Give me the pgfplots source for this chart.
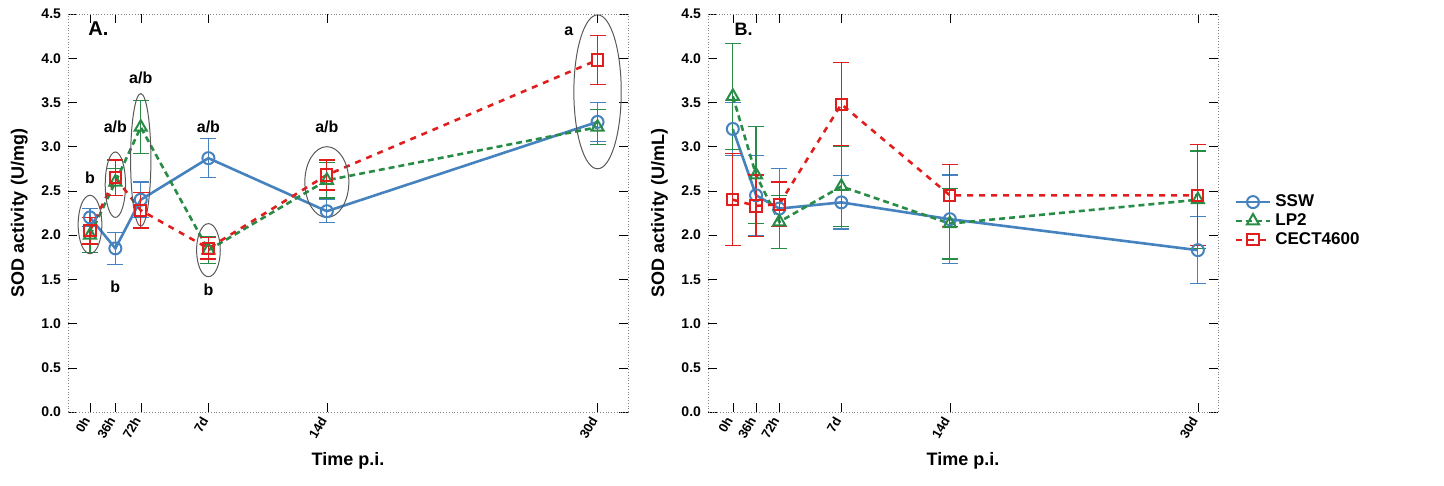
\documentclass[border=0pt]{standalone}
\usepackage{pgfplots}
\pgfplotsset{compat=1.18}
\usepackage{fontspec}
\setmainfont{Liberation Sans}
\definecolor{cssw}{RGB}{70,130,190}
\definecolor{clp}{RGB}{40,140,70}
\definecolor{cce}{RGB}{225,30,30}
\pgfplotsset{
  myax/.style={scale only axis, anchor=south west,
    xmin=-1.3, xmax=31.8, ymin=0, ymax=4.5,
    xtick={0,1.5,3,7,14,30}, xticklabels={0h,36h,72h,7d,14d,30d},
    xticklabel style={rotate=60, anchor=east, font=\bfseries\fontsize{6.5}{7}\selectfont},
    ytick={0,0.5,...,4.5}, yticklabel style={font=\bfseries\fontsize{7}{8}\selectfont},
    /pgf/number format/assume math mode=true,
    /pgf/number format/fixed, /pgf/number format/fixed zerofill, /pgf/number format/precision=1,
    axis line style={gray, densely dotted}, tick style={black},
    xlabel={\bfseries Time p.i.}, xlabel style={font=\fontsize{9}{10}\selectfont, yshift=2pt},
    ylabel style={font=\fontsize{9}{10}\selectfont},
    error bars/y dir=both, error bars/y explicit,
    error bars/error mark options={solid, rotate=90, mark size=4pt, line width=0.6pt},
    error bars/error bar style={solid, line width=0.6pt}},
  ssw/.style={color=cssw, line width=1.3pt, mark=o, mark size=3pt, mark options={solid,line width=1pt}},
  lp/.style={color=clp, line width=1.3pt, densely dashed, mark=triangle, mark size=3.5pt, mark options={solid,line width=1pt}},
  ce/.style={color=cce, line width=1.3pt, dashed, mark=square, mark size=2.8pt, mark options={solid,line width=1pt}},
}
\begin{document}
\begin{tikzpicture}
\useasboundingbox (0,0) rectangle (722pt,243pt);
\begin{axis}[myax, at={(34pt,37pt)}, width=280pt, height=199pt,
  ylabel={\bfseries SOD activity (U/mg)}]
\addplot[ssw] coordinates {(0,2.2)+-(0,0.1) (1.5,1.85)+-(0,0.18) (3,2.4)+-(0,0.2) (7,2.87)+-(0,0.22) (14,2.27)+-(0,0.13) (30,3.28)+-(0,0.22)};
\addplot[lp] coordinates {(0,2.0)+-(0,0.2) (1.5,2.6)+-(0,0.15) (3,3.22)+-(0,0.3) (7,1.83)+-(0,0.15) (14,2.62)+-(0,0.2) (30,3.22)+-(0,0.2)};
\addplot[ce] coordinates {(0,2.05)+-(0,0.15) (1.5,2.65)+-(0,0.2) (3,2.28)+-(0,0.2) (7,1.85)+-(0,0.12) (14,2.68)+-(0,0.17) (30,3.98)+-(0,0.28)};
\begin{scope}[gray!70!black, line width=0.5pt]
\draw (axis cs:0,2.12) ellipse [x radius=0.7, y radius=0.33];
\draw (axis cs:1.5,2.57) ellipse [x radius=0.6, y radius=0.37];
\draw (axis cs:3,2.85) ellipse [x radius=0.6, y radius=0.75];
\draw (axis cs:7,1.83) ellipse [x radius=0.7, y radius=0.3];
\draw (axis cs:14,2.6) ellipse [x radius=1.3, y radius=0.4];
\draw (axis cs:30,3.62) ellipse [x radius=1.4, y radius=0.87];
\end{scope}
\begin{scope}[font=\bfseries\fontsize{8}{9}\selectfont]
\node at (axis cs:0,2.65) {b};
\node at (axis cs:1.5,1.42) {b};
\node at (axis cs:1.5,3.22) {a/b};
\node at (axis cs:3,3.78) {a/b};
\node at (axis cs:7,3.22) {a/b};
\node at (axis cs:7,1.38) {b};
\node at (axis cs:14,3.22) {a/b};
\node at (axis cs:28.3,4.3) {a};
\node[font=\bfseries\fontsize{10}{11}\selectfont] at (axis cs:0.5,4.33) {A.};
\end{scope}
\end{axis}
\begin{axis}[myax, at={(354pt,37pt)}, width=255pt, height=199pt, xmin=-1.6, xmax=31.3,
  ylabel={\bfseries SOD activity (U/mL)},
  legend style={at={(1.02,0.48)}, anchor=west, draw=none, font=\bfseries\fontsize{8.5}{9}\selectfont, row sep=-2pt},
  legend cell align=left]
\addplot[ssw] coordinates {(0,3.2)+-(0,0.3) (1.5,2.45)+-(0,0.45) (3,2.3)+-(0,0.45) (7,2.37)+-(0,0.3) (14,2.18)+-(0,0.5) (30,1.83)+-(0,0.38)};
\addplot[lp] coordinates {(0,3.57)+-(0,0.6) (1.5,2.68)+-(0,0.55) (3,2.15)+-(0,0.3) (7,2.55)+-(0,0.45) (14,2.13)+-(0,0.4) (30,2.4)+-(0,0.55)};
\addplot[ce] coordinates {(0,2.4)+-(0,0.52) (1.5,2.33)+-(0,0.35) (3,2.35)+-(0,0.25) (7,3.48)+-(0,0.47) (14,2.45)+-(0,0.35) (30,2.45)+-(0,0.57)};
\legend{SSW,LP2,CECT4600}
\node[font=\bfseries\fontsize{9}{10}\selectfont] at (axis cs:0.7,4.33) {B.};
\node[anchor=west, font=\bfseries\fontsize{9}{10}\selectfont] at (rel axis cs:1.035,0.59) {Injection};
\end{axis}
\end{tikzpicture}
\end{document}
